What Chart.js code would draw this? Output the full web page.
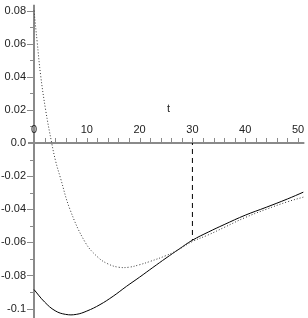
<!DOCTYPE html>
<html>
<head>
<meta charset="UTF-8">
<script src="https://cdn.jsdelivr.net/npm/chart.js"></script>
<style>
  html, body { margin: 0; padding: 0; background: #fff; }
  #wrap { position: relative; width: 308px; height: 318px; }
</style>
</head>
<body>
<div id="wrap"><canvas id="kuva"></canvas></div>
<script>
// dotted curve
const tDotted = [0, 0.6, 1.25, 2.2, 3.35, 4.1, 5.0, 6.8, 9.7, 12.1, 14, 16, 18, 20, 22, 25, 27, 30, 33, 36, 40, 44, 48, 51];
const yDotted = [0.080, 0.061, 0.041, 0.020, 0, -0.011, -0.021, -0.040, -0.060, -0.069, -0.073, -0.075, -0.075, -0.0735, -0.0715, -0.068, -0.065, -0.0595, -0.0555, -0.051, -0.045, -0.040, -0.0355, -0.0327];
// solid curve
const tSolid = [0, 2, 4, 6, 8, 10, 12.5, 15, 17.5, 20, 22.5, 25, 27.5, 30, 33, 36, 40, 44, 48, 51];
const ySolid = [-0.0885, -0.096, -0.1013, -0.1035, -0.1035, -0.1015, -0.0976, -0.0925, -0.0866, -0.081, -0.0752, -0.0695, -0.064, -0.0587, -0.0538, -0.0493, -0.0436, -0.0388, -0.0338, -0.0297];
// dashed marker
const tMarker = [30, 30];
const yMarker = [0, -0.0587];
// axis ticks
const xTickLabels = [0, 10, 20, 30, 40, 50];
const yTickLabels = [0.08, 0.06, 0.04, 0.02, 0, -0.02, -0.04, -0.06, -0.08, -0.1];

const pts = (xs, ys) => xs.map((x, i) => ({ x: x, y: ys[i] }));

// Maple-tyyliset akselit origon kautta
const akselit = {
    id: 'akselit',
    beforeDatasetsDraw(chart) {
        const ctx = chart.ctx;
        const xs = chart.scales.x, ys = chart.scales.y;
        const x0 = xs.getPixelForValue(0), y0 = ys.getPixelForValue(0);
        ctx.save();
        ctx.strokeStyle = '#8a8a8a';
        ctx.lineWidth = 2;
        ctx.beginPath();
        ctx.moveTo(x0, ys.getPixelForValue(0.0835));
        ctx.lineTo(x0, chart.height);
        ctx.moveTo(x0 - 6, y0);
        ctx.lineTo(xs.getPixelForValue(51.2), y0);
        ctx.stroke();

        ctx.lineWidth = 1;
        ctx.beginPath();
        for (let t = 2; t <= 50; t += 2) {
            const px = Math.round(xs.getPixelForValue(t)) + 0.5;
            ctx.moveTo(px, y0);
            ctx.lineTo(px, y0 - 5);
        }
        for (let k = -10; k <= 8; k++) {
            if (k === 0) continue;
            const py = Math.round(ys.getPixelForValue(k / 100)) + 0.5;
            const len = k % 2 === 0 ? 7 : 4;
            ctx.moveTo(x0 - len, py);
            ctx.lineTo(x0, py);
        }
        ctx.stroke();

        ctx.fillStyle = '#222';
        ctx.font = '11px "Liberation Sans", Arial, sans-serif';
        ctx.textAlign = 'center';
        ctx.textBaseline = 'alphabetic';
        xTickLabels.forEach(v => {
            ctx.fillText(String(v), xs.getPixelForValue(v), y0 - 10);
        });
        ctx.fillText('t', xs.getPixelForValue(25.5), y0 - 31);
        ctx.textAlign = 'right';
        ctx.textBaseline = 'middle';
        yTickLabels.forEach(v => {
            let s = v === 0 ? '0.0' : String(v);
            ctx.fillText(s, x0 - 8, ys.getPixelForValue(v));
        });
        ctx.restore();
    }
};

new Chart(document.getElementById('kuva'), {
    type: 'line',
    data: {
        datasets: [{
            data: pts(tDotted, yDotted),
            borderColor: '#333',
            borderWidth: 1,
            borderDash: [1, 2],
            pointRadius: 0,
            tension: 0.4
        }, {
            data: pts(tSolid, ySolid),
            borderColor: '#000',
            borderWidth: 1,
            pointRadius: 0,
            tension: 0.4
        }, {
            data: pts(tMarker, yMarker),
            borderColor: '#000',
            borderWidth: 1,
            borderDash: [5, 4],
            borderDashOffset: 3,
            pointRadius: 0
        }]
    },
    options: {
        responsive: true,
        maintainAspectRatio: false,
        animation: false,
        layout: { padding: 0 },
        plugins: { legend: { display: false }, tooltip: { enabled: false } },
        scales: {
            x: { type: 'linear', min: -6.44, max: 51.89, display: false },
            y: { type: 'linear', min: -0.10568, max: 0.08635, display: false }
        }
    },
    plugins: [akselit]
});
</script>
</body>
</html>
